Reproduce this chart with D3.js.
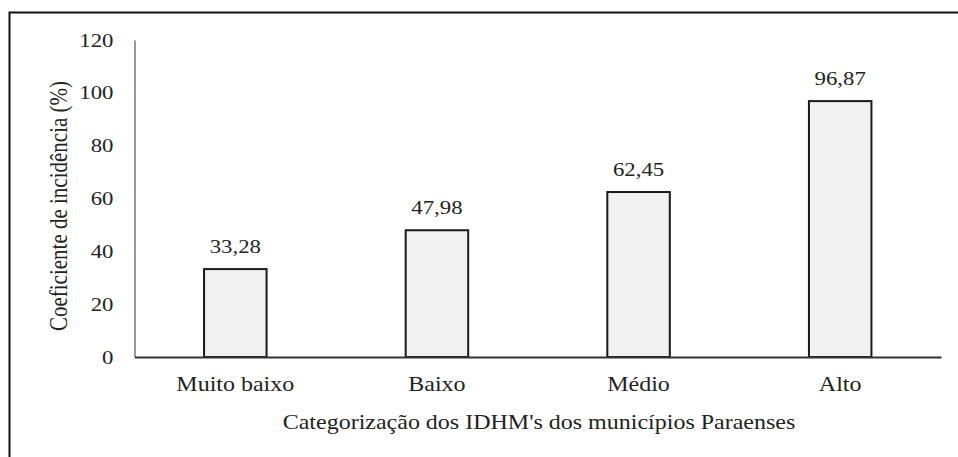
<!DOCTYPE html>
<html>
<head>
<meta charset="utf-8">
<script src="https://cdn.jsdelivr.net/npm/d3@7"></script>
<style>
  html, body { margin: 0; padding: 0; background: #fff; }
  svg { display: block; }
</style>
</head>
<body>
<script>
// IDHM categories and incidence coefficient (%)
const categories = ["Muito baixo", "Baixo", "Médio", "Alto"];
const incidence = [33.28, 47.98, 62.45, 96.87];
const valueLabels = ["33,28", "47,98", "62,45", "96,87"];
const yTicks = [0, 20, 40, 60, 80, 100, 120];

const FONT = "Times New Roman, Liberation Serif, Tinos, serif";
const SX = 1.2;            // text is drawn slightly widened
const TEXT = "#222";
const W = 958, H = 457;
const margin = { left: 134.5, right: 17 };

const svg = d3.select("body").append("svg")
  .attr("width", W).attr("height", H)
  .attr("font-family", FONT);

// widen a text element around its own anchor point
function widen(sel) {
  sel.each(function () {
    const t = d3.select(this);
    const tx = +t.attr("x") || 0, ty = +t.attr("y") || 0;
    t.attr("x", 0).attr("y", 0)
     .attr("transform", `translate(${tx},${ty}) scale(${SX},1)`);
  });
}

// frame: top and left edges
svg.append("path")
  .attr("d", `M9.5,${H} V12.5 H${W}`)
  .attr("fill", "none").attr("stroke", "#111").attr("stroke-width", 2);

const x = d3.scaleBand()
  .domain(categories)
  .range([margin.left, W - margin.right])
  .paddingInner(0.69).paddingOuter(0.345);

const y = d3.scaleLinear()
  .domain([0, 120])
  .range([357, 40]);

// y axis
const yAxis = svg.append("g")
  .attr("transform", `translate(${margin.left},0)`)
  .call(d3.axisLeft(y).tickValues(yTicks).tickSize(0).tickPadding(21))
  .attr("font-family", FONT).attr("font-size", 19);
yAxis.select(".domain").attr("stroke", "#9a9a9a").attr("stroke-width", 2);
yAxis.selectAll(".tick text").attr("fill", TEXT).call(widen);

// bars
svg.selectAll("rect.bar")
  .data(incidence)
  .join("rect")
  .attr("class", "bar")
  .attr("x", (d, i) => x(categories[i]))
  .attr("width", x.bandwidth())
  .attr("y", d => y(d))
  .attr("height", d => y(0) - y(d))
  .attr("fill", "#f1f1f1")
  .attr("stroke", "#1a1a1a")
  .attr("stroke-width", 2);

// value labels
svg.selectAll("text.val")
  .data(incidence)
  .join("text")
  .attr("class", "val")
  .attr("x", (d, i) => x(categories[i]) + x.bandwidth() / 2)
  .attr("y", d => y(d) - 16)
  .attr("text-anchor", "middle")
  .attr("font-size", 19).attr("fill", TEXT)
  .text((d, i) => valueLabels[i])
  .call(widen);

// x axis
const xAxis = svg.append("g")
  .attr("transform", `translate(0,${y(0)})`)
  .call(d3.axisBottom(x).tickSize(0).tickPadding(20))
  .attr("font-family", FONT).attr("font-size", 20);
xAxis.select(".domain").attr("stroke", "#333").attr("stroke-width", 2);
xAxis.selectAll(".tick text").attr("fill", TEXT).call(widen);

// axis titles
svg.append("text")
  .attr("x", 539).attr("y", 429)
  .attr("text-anchor", "middle")
  .attr("font-size", 20).attr("fill", TEXT)
  .text("Categorização dos IDHM's dos municípios Paraenses")
  .call(widen);

svg.append("text")
  .attr("transform", `translate(67,206) scale(${SX},1) rotate(-90)`)
  .attr("text-anchor", "middle")
  .attr("font-size", 21).attr("fill", TEXT)
  .text("Coeficiente de incidência (%)");
</script>
</body>
</html>
